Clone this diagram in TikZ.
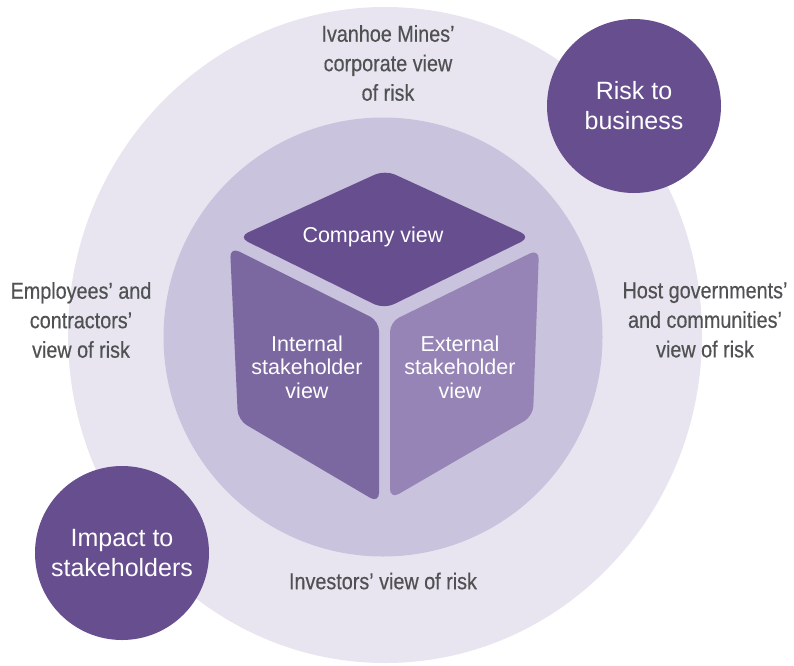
\documentclass[tikz,border=0pt]{standalone}
\usepackage{fontspec}
\setmainfont{Liberation Sans}
\newfontfamily\condfont[FakeStretch=0.86, FakeBold=0.4]{Liberation Sans}
\usepackage{xcolor}
\usepackage{tikz}
\usetikzlibrary{positioning}
\definecolor{kouter}{HTML}{E8E5F0}
\definecolor{kinner}{HTML}{C9C3DD}
\definecolor{kdark}{HTML}{674E8F}
\definecolor{kmid}{HTML}{7B68A1}
\definecolor{klight}{HTML}{9584B5}
\definecolor{kgrey}{HTML}{505153}

\begin{document}
\begin{tikzpicture}[x=1pt, y=-1pt,
  viewlabel/.style={font=\condfont\fontsize{23}{29.5}\selectfont, text=kgrey, align=center, inner sep=0pt},
  facetext/.style={font=\fontsize{21.5}{23.5}\selectfont, text=white, align=center, inner sep=0pt},
  riskdot/.style={circle, fill=kdark, minimum size=174pt, inner sep=0pt, text=white, align=center,
    font=\fontsize{25}{30}\selectfont}]
\useasboundingbox (0,0) rectangle (794,665);
% rings
\fill[kouter] (385,335) ellipse [x radius=317pt, y radius=328pt];
\fill[kinner] (383,337) circle [radius=219.5pt];
% cube faces
\fill[kdark, rounded corners=11pt] (238,237) -- (385,170) -- (531,237) -- (384,309) -- cycle;
\fill[kmid, rounded corners=10pt] (230,247) -- (379,321) -- (379,503) -- (238,420) -- cycle;
\fill[klight, rounded corners=10pt] (539,249) -- (390,322) -- (390,499) -- (533,416) -- cycle;
\node[facetext] (company) at (373,237) {Company view};
\node[facetext] (internal) at (307,367) {Internal\\stakeholder\\view};
\node[facetext] (external) at (460,367) {External\\stakeholder\\view};
% outer circles
\node[riskdot] (business) at (634,106) {Risk to\\business};
\node[riskdot] (impact) at (122,553) {Impact to\\stakeholders};
% view labels
\node[viewlabel] (corporate) at (388,63) {Ivanhoe Mines’\\corporate view\\of risk};
\node[viewlabel] (employees) at (81,320) {Employees’ and\\contractors’\\view of risk};
\node[viewlabel] (hosts) at (705,320) {Host governments’\\and communities’\\view of risk};
\node[viewlabel] (investors) at (383,581) {Investors’ view of risk};
\end{tikzpicture}
\end{document}
